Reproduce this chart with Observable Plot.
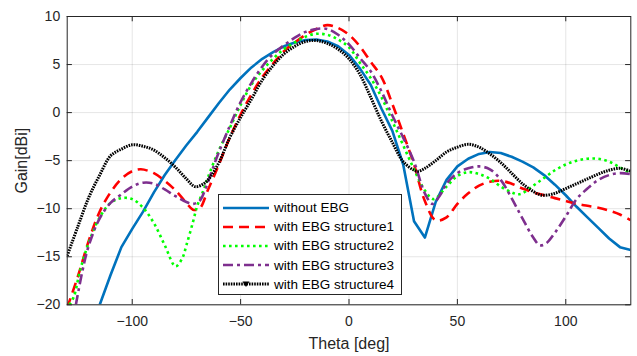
<!DOCTYPE html>
<html><head><meta charset="utf-8">
<script src="https://cdn.jsdelivr.net/npm/d3@7"></script>
<script src="https://cdn.jsdelivr.net/npm/@observablehq/plot@0.6"></script>
<style>
body{margin:0;background:#fff;}
#wrap{position:relative;width:637px;height:356px;font-family:"Liberation Sans",Arial,sans-serif;}
#legend{position:absolute;left:218px;top:194px;width:184px;height:101px;border:1px solid #262626;background:#fff;box-sizing:border-box;}
.row{position:absolute;left:4px;height:19px;display:flex;align-items:center;font-size:13.5px;color:#000;white-space:nowrap;}
.row svg{margin-right:5px;}
</style></head><body><div id="wrap"><div id="legend"></div></div>
<script>
const xTicks = [-100, -50, 0, 50, 100];
const yTicks = [-20, -15, -10, -5, 0, 5, 10];
const seriesNames = ["without EBG", "with EBG structure1", "with EBG structure2", "with EBG structure3", "with EBG structure4"];

const thetaBlue = [-115,-110,-105,-100,-95,-90,-85,-80,-75,-70,-65,-60,-55,-50,-45,-40,-35,-30,-25,-20,-15,-10,-5,0,5,10,15,20,25,30,35,40,45,50,55,60,65,70,75,80,85,90,95,100,105,110,115,120,125,130];
const gainBlue  = [-20,-16.9,-14.0,-12.1,-10.3,-8.3,-6.5,-4.9,-3.4,-2.0,-0.5,1.0,2.4,3.6,4.7,5.6,6.3,6.9,7.3,7.55,7.6,7.4,6.9,6.0,4.6,2.9,0.4,-1.9,-5.4,-11.3,-13.0,-9.3,-7.0,-5.6,-4.8,-4.3,-4.1,-4.2,-4.6,-5.1,-5.7,-6.5,-7.5,-8.6,-9.8,-10.9,-12.0,-13.1,-14.0,-14.3];

const thetaRed = [-130,-125,-120,-115,-110,-105,-100,-96,-90,-85,-80,-75,-72,-69,-65,-60,-55,-50,-45,-40,-35,-30,-25,-20,-15,-10,-5,0,5,10,15,20,25,30,35,40,45,50,55,60,65,70,75,80,85,90,95,100,105,110,115,120,125,130];
const gainRed  = [-20.3,-17.0,-13.3,-10.3,-8.3,-6.9,-6.1,-5.9,-6.3,-7.1,-8.1,-9.4,-10.1,-10.0,-8.0,-5.4,-2.6,-0.2,1.9,3.7,5.1,6.4,7.3,8.1,8.7,9.1,8.8,8.1,6.9,5.3,3.7,0.9,-2.2,-5.4,-9.2,-11.2,-10.9,-9.5,-8.4,-7.6,-7.2,-7.1,-7.4,-7.9,-8.3,-8.6,-8.9,-9.2,-9.5,-9.7,-9.9,-10.2,-10.6,-11.2];

const thetaGreen = [-129,-127,-124,-120,-115,-110,-105,-100,-95,-90,-85,-80,-77,-75,-72,-70,-67,-65,-60,-55,-50,-45,-40,-35,-30,-25,-20,-15,-10,-5,0,5,10,15,20,25,30,35,39,45,50,55,60,65,70,75,78,80,85,90,95,100,105,110,115,120,125,130];
const gainGreen  = [-20,-19.2,-16.4,-13.5,-10.9,-9.4,-8.9,-9.0,-9.9,-11.5,-13.8,-16.0,-15.2,-13.8,-11.4,-9.7,-8.0,-6.7,-3.9,-1.6,0.8,2.9,4.4,5.6,6.6,7.3,7.9,8.2,8.1,7.6,6.8,5.2,3.6,1.6,-0.9,-3.4,-5.9,-8.1,-9.0,-7.7,-6.6,-6.2,-6.4,-6.9,-7.7,-8.3,-8.5,-8.4,-7.6,-6.8,-6.0,-5.4,-5.0,-4.8,-4.8,-5.1,-5.7,-6.3];

const thetaPurple = [-126,-123,-120,-115,-110,-105,-100,-95,-90,-85,-80,-75,-72,-69,-66,-63,-60,-55,-50,-45,-40,-35,-30,-25,-20,-15,-10,-5,0,5,10,15,20,25,30,35,38.5,42,45,50,55,60,65,70,75,80,85,88,91,95,100,105,110,115,120,125,130];
const gainPurple  = [-20,-16.5,-13.8,-11.0,-9.4,-8.5,-7.7,-7.3,-7.4,-8.0,-8.7,-9.3,-9.5,-9.2,-7.8,-5.9,-4.1,-1.4,1.1,3.1,4.8,6.1,7.0,7.8,8.4,8.7,8.7,8.1,7.1,5.7,4.3,2.2,-0.3,-2.6,-5.1,-8.4,-9.5,-8.6,-7.4,-6.3,-5.8,-5.6,-5.9,-7.0,-8.9,-11.0,-13.0,-13.8,-13.6,-12.5,-10.8,-9.0,-7.9,-7.0,-6.5,-6.3,-6.4];

const thetaBlack = [-130,-125,-120,-115,-110,-105,-100,-95,-90,-85,-80,-75,-71,-67,-64,-60,-55,-50,-45,-40,-35,-30,-25,-20,-15,-10,-5,0,5,10,15,20,25,30,32,35,40,45,50,55,60,65,70,75,80,85,89,95,100,105,110,115,120,125,130];
const gainBlack  = [-14.9,-11.8,-8.8,-6.5,-4.5,-3.8,-3.35,-3.5,-3.9,-4.7,-5.7,-6.9,-7.7,-7.4,-6.7,-5.2,-2.6,-0.5,1.4,3.4,4.9,6.1,6.9,7.4,7.5,7.2,6.6,5.6,4.0,1.6,-0.9,-3.1,-5.1,-6.0,-6.1,-5.8,-5.0,-4.1,-3.6,-3.3,-3.6,-4.3,-5.2,-6.3,-7.4,-8.2,-8.6,-8.4,-7.9,-7.4,-6.9,-6.4,-6.0,-5.8,-6.1];

const thetas = [thetaBlue, thetaRed, thetaGreen, thetaPurple, thetaBlack];
const gains = [gainBlue, gainRed, gainGreen, gainPurple, gainBlack];

const styles = [
  {stroke: "#0072BD", strokeWidth: 2.6, dash: null, curve: "linear"},
  {stroke: "#FF0000", strokeWidth: 2.6, dash: "10 6", curve: "catmull-rom"},
  {stroke: "#00FF00", strokeWidth: 2.6, dash: "2.6 3.4", curve: "catmull-rom"},
  {stroke: "#7E2F8E", strokeWidth: 2.6, dash: "10 4 3 4", curve: "catmull-rom"},
  {stroke: "#000000", strokeWidth: 3, dash: "1.6 1", curve: "catmull-rom"}
];

const series = seriesNames.map((name, i) => thetas[i].map((t, j) => ({series: name, theta: t, gain: gains[i][j]})));

const lineMarks = series.map((data, i) => Plot.line(data, {
  x: "theta", y: "gain", stroke: styles[i].stroke, strokeWidth: styles[i].strokeWidth,
  strokeDasharray: styles[i].dash, strokeLinecap: "butt", curve: styles[i].curve, clip: true
}));

const chart = Plot.plot({
  width: 637, height: 356,
  marginLeft: 66.7, marginRight: 6.7, marginTop: 16, marginBottom: 51.7,
  style: {fontFamily: "Liberation Sans, Arial, sans-serif", fontSize: "13px", color: "#262626", background: "#fff"},
  x: {domain: [-130, 130]},
  y: {domain: [-20, 10]},
  marks: [
    Plot.gridX(xTicks, {stroke: "#000", strokeOpacity: 0.1, strokeWidth: 1}),
    Plot.gridY(yTicks, {stroke: "#000", strokeOpacity: 0.1, strokeWidth: 1}),
    Plot.axisX(xTicks, {tickSize: 0, tickPadding: 11, label: null, fontSize: 14}),
    Plot.axisY(yTicks, {tickSize: 0, tickPadding: 7, label: null, fontSize: 14}),
    Plot.ruleX(xTicks, {x: d => d, y1: -20, y2: -19.45, stroke: "#262626"}),
    Plot.ruleX(xTicks, {x: d => d, y1: 10, y2: 9.45, stroke: "#262626"}),
    Plot.ruleY(yTicks, {y: d => d, x1: -130, x2: -127.6, stroke: "#262626"}),
    Plot.ruleY(yTicks, {y: d => d, x1: 130, x2: 127.6, stroke: "#262626"}),
    ...lineMarks,
    Plot.frame({stroke: "#262626", strokeWidth: 1}),
    Plot.text(["Theta [deg]"], {text: d => d, frameAnchor: "bottom", dy: 39, fontSize: 16, fill: "#262626", lineAnchor: "middle"}),
    Plot.text(["Gain[dBi]"], {text: d => d, frameAnchor: "left", dx: -45, rotate: -90, fontSize: 16, fill: "#262626", textAnchor: "middle", lineAnchor: "middle"})
  ]
});
const wrap = document.getElementById("wrap");
wrap.insertBefore(chart, wrap.firstChild);

const legend = document.getElementById("legend");
seriesNames.forEach((name, i) => {
  const row = document.createElement("div");
  row.className = "row";
  row.style.top = (3 + i * 19.2) + "px";
  const s = styles[i];
  let svg = `<svg width="46" height="12"><line x1="0" y1="6" x2="46" y2="6" stroke="${s.stroke}" stroke-width="${s.strokeWidth}" ${s.dash ? `stroke-dasharray="${s.dash}"` : ""}/>`;
  if (i === 4) svg += `<path d="M19.5,3.5 L26.5,3.5 L23,9 Z" fill="#000"/>`;
  svg += `</svg>`;
  row.innerHTML = svg + `<span>${name}</span>`;
  legend.appendChild(row);
});
</script></body></html>
